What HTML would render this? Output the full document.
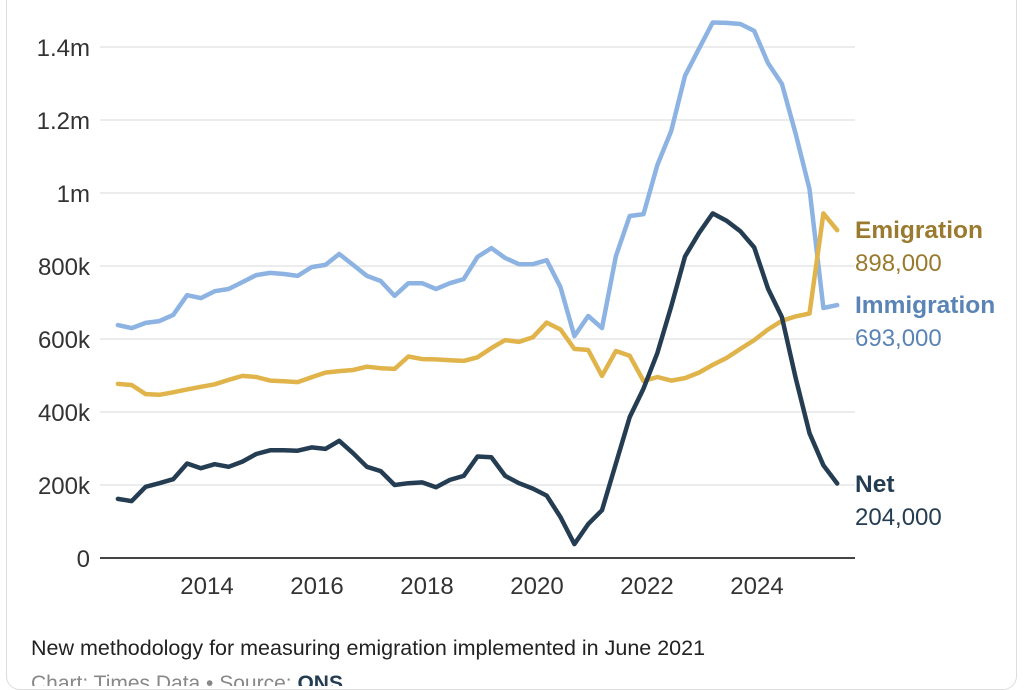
<!DOCTYPE html>
<html><head><meta charset="utf-8"><style>
html,body{margin:0;padding:0;background:#fff;}
body{width:1026px;height:686px;overflow:hidden;position:relative;font-family:"Liberation Sans",sans-serif;}
#card{position:absolute;left:6px;top:-20px;width:1011px;height:710px;border:1.5px solid #dcdcdc;border-radius:14px;box-sizing:border-box;}
svg{position:absolute;left:0;top:0;}
</style></head><body>
<div id="card"></div>
<svg id="chart" width="1026" height="686"></svg>
<script>
const yTicks=[0,200000,400000,600000,800000,1000000,1200000,1400000];
const yTickLabels=["0","200k","400k","600k","800k","1m","1.2m","1.4m"];
const xTicks=[2014,2016,2018,2020,2022,2024];
const startYear=2012.38;
const stepYear=0.2515;
const immigration=[638,630,644,649,666,720,712,731,737,756,775,781,778,773,797,803,833,803,773,759,718,753,753,737,753,764,825,849,822,805,805,816,742,608,663,630,827,937,942,1077,1170,1321,1395,1467,1466,1463,1444,1356,1299,1162,1011,685,693];
const emigration=[477,474,449,447,454,462,469,476,488,499,496,486,484,482,495,508,512,515,524,520,518,552,545,544,542,540,550,575,597,592,605,645,626,573,570,499,567,554,485,496,486,493,508,529,548,573,597,626,650,662,670,944,898];
const net=[162,156,195,205,216,259,246,257,250,264,285,295,295,294,303,299,321,287,250,238,200,205,207,194,214,225,278,276,225,205,190,171,112,38,93,131,259,386,464,562,689,826,890,944,924,895,851,738,660,493,342,254,204];
const labels=[{name:"Emigration",value:"898,000",y:229,c:"#9a7a2e"},{name:"Immigration",value:"693,000",y:304,c:"#5b84b6"},{name:"Net",value:"204,000",y:483,c:"#253d52"}];

const svg=document.getElementById('chart');
const NS="http://www.w3.org/2000/svg";
const yS=v=>558-v*(511/1400000);
const xS=t=>207+(t-2014)*55;
function mk(tag,attrs){const e=document.createElementNS(NS,tag);for(const k in attrs)e.setAttribute(k,attrs[k]);svg.appendChild(e);return e;}
yTicks.forEach((v,i)=>{
  if(i>0){const g=mk('line',{x1:100,x2:855,y1:yS(v),y2:yS(v),stroke:'#e6e6e6','stroke-width':1.5});
  
  }
  const t=mk('text',{x:90,y:yS(v)+9,'text-anchor':'end','font-size':24,fill:'#333'});
  t.textContent=yTickLabels[i];
  
  
});
xTicks.forEach(yr=>{
  const t=mk('text',{x:xS(yr),y:594,'text-anchor':'middle','font-size':24,fill:'#333'});
  t.textContent=yr;
  
  
});
const ax=mk('line',{x1:100,x2:855,y1:558,y2:558,stroke:'#444','stroke-width':2});


function line(arr,color,name){
  const d=arr.map((v,i)=>(i?'L':'M')+xS(startYear+i*stepYear).toFixed(1)+','+yS(v*1000).toFixed(1)).join('');
  const p=mk('path',{d:d,fill:'none',stroke:color,'stroke-width':4.5,'stroke-linejoin':'round','stroke-linecap':'round'});
  
  
}
line(immigration,'#8db3e2','immigration-line');
line(emigration,'#e0b44a','emigration-line');
line(net,'#253d52','net-line');
labels.forEach(l=>{
  const a=mk('text',{x:855,y:l.y+9,'font-size':24.5,'font-weight':'bold',fill:l.c});
  a.textContent=l.name;
  
  
  const b=mk('text',{x:855,y:l.y+42,'font-size':24,fill:l.c});
  b.textContent=l.value;
  
  
});
const n=mk('text',{x:31,y:655,'font-size':21.5,fill:'#222'});
n.textContent='New methodology for measuring emigration implemented in June 2021';


const s=mk('text',{x:31,y:690,'font-size':21,fill:'#888'});
s.innerHTML='Chart: Times Data • Source: <tspan fill="#253d52" font-weight="bold">ONS</tspan>';


</script>
</body></html>
